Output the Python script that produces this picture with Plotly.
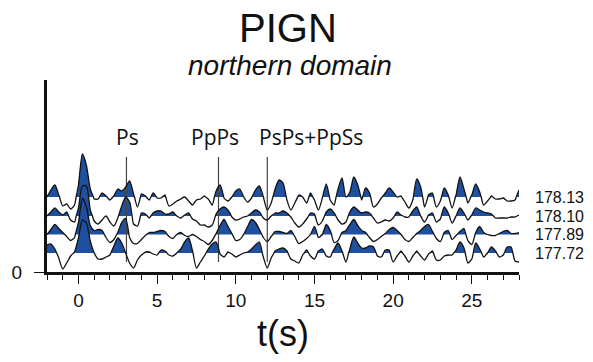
import numpy as np
import plotly.graph_objects as go

# ---------------- data ----------------
station = "PIGN"
region = "northern domain"
x_title = "t(s)"
t_start, t_step = -2.0, 0.25          # sampling of the traces (s)
x_ticks = [0, 5, 10, 15, 20, 25]
trace_labels = ["178.13", "178.10", "177.89", "177.72"]

rf_17813 = [0, 7, 12, 2, -9, -7, -12, -8,
            12, 43, 32, 8, -2, -2, 4, 1,
            -3, 1, 8, 6, 10, 16, 3, -10,
            3, 1, -3, 4, -1, -1, 2, -9,
            -7, -4, -2, 0, -4, -8, -3, -2,
            1, -2, -8, 6, 12, -1, -4, 0,
            6, 8, 0, -5, -1, 7, 11, 0,
            -13, -6, 8, 17, 14, -3, -13, -6,
            2, 0, -6, 4, -3, -13, -1, 13,
            -3, -8, 8, 19, 0, 5, 20, 12,
            -3, 9, 4, -10, -7, -1, 4, 9,
            5, 0, 1, -5, -11, -3, 18, 10,
            -10, 2, 4, -10, -4, 9, 2, -11,
            2, 20, 8, -6, 2, 13, 5, -8,
            -4, 1, -2, -2, -1, -4, -4, -3,
            7]
rf_17810 = [0, 4, 8, 4, 1, 4, -4, -6,
            8, 30, 30, 6, -5, -8, -4, 0,
            -6, -10, -2, 10, 19, 14, -8, -10,
            3, 2, -2, 3, 5, 5, 2, 2,
            4, 0, -2, 1, 3, -3, -5, -9,
            -9, -11, -9, 2, 7, 9, 6, -1,
            -4, -3, -1, 0, 3, 6, 4, -2,
            -4, 0, 3, 3, 5, 3, -1, -7,
            -11, -8, -3, 3, 2, -9, -5, 4,
            7, 3, -4, -8, -6, 4, 9, 6,
            3, 4, 3, -2, -7, -6, -4, -5,
            -2, 4, 1, -1, -1, 5, 9, 0,
            -6, 1, 3, -6, -3, 9, 3, -7,
            0, 8, 3, -4, 1, 8, 6, 4,
            3, 2, -2, -2, -2, -2, -1, -1,
            1]
rf_17789 = [0, 5, 10, 6, 2, -2, -6, -3,
            12, 36, 28, 9, 4, 5, 4, -3,
            -8, -5, 2, 12, 16, -3, -9, -9,
            -5, -1, 2, 2, 3, 4, 3, -2,
            -4, 0, 2, -1, -2, 0, -2, -5,
            -7, -10, -6, 1, 9, 15, 8, 1,
            -6, -5, 0, 8, 15, 12, 5, -3,
            -7, -2, 3, 3, 2, 1, 4, -2,
            -9, -7, -4, 0, 8, -3, 0, 10,
            4, -8, -6, 2, 4, 10, 15, 9,
            4, 2, -3, -7, -5, -2, 1, 5,
            7, 4, 0, -5, -7, -3, 1, 4,
            8, 10, 3, -4, -7, 2, 4, -5,
            -1, 3, 6, -6, -10, 2, 8, 2,
            0, -1, -1, 1, 3, 4, 1, 1,
            2]
rf_17772 = [8, 9, 4, -5, -16, -10, -3, 1,
            15, 33, 30, 12, 0, -6, -6, -4,
            -2, 7, 15, 10, 0, -10, -15, -7,
            -2, 1, 1, -1, -2, 3, 2, -2,
            -3, 0, 4, 11, 15, 2, -15, -9,
            -3, 4, 9, 11, -1, -4, 1, -1,
            -4, -2, 0, 1, 4, 8, 11, -4,
            -15, -5, 2, 4, 5, 2, -6, -8,
            -10, -2, 3, -3, -6, 2, 4, -3,
            -4, 4, 10, 2, -9, 4, 16, 10,
            5, 5, 7, 6, -3, -4, 3, 3,
            -9, -3, 2, -3, -9, -3, 2, -3,
            -7, -1, 2, -7, -7, -3, -2, -2,
            3, 11, 5, -10, -6, 10, 4, -4,
            0, 6, 2, -4, -2, 6, 6, -8,
            -9]

phase_names = ["Ps", "PpPs", "PsPs+PpSs"]
phase_times = [3.05, 8.9, 12.0]

# ---------------- drawing ----------------
traces = [rf_17813, rf_17810, rf_17789, rf_17772]
n = len(rf_17813)
t = t_start + t_step * np.arange(n)

baselines = [75, 56, 37.5, 19]       # vertical offsets of the wiggles
BLUE = "#1f50a0"
SANS = "Liberation Sans, Arial, sans-serif"
LABEL_FONT = "Open Sans, sans-serif"


def with_crossings(tt, vv):
    xs, ys = [], []
    for i in range(len(vv)):
        xs.append(tt[i]); ys.append(vv[i])
        if i < len(vv) - 1 and vv[i] * vv[i + 1] < 0:
            tc = tt[i] + (tt[i + 1] - tt[i]) * vv[i] / (vv[i] - vv[i + 1])
            xs.append(tc); ys.append(0.0)
    return np.array(xs), np.array(ys, float)


fig = go.Figure()

# positive fills
for vals, b in zip(traces, baselines):
    xs, ys = with_crossings(t, np.array(vals, float))
    fig.add_trace(go.Scatter(x=[xs[0], xs[-1]], y=[b, b], mode="lines",
                             line=dict(width=0), hoverinfo="skip", showlegend=False))
    fig.add_trace(go.Scatter(x=xs, y=b + np.maximum(ys, 0), mode="lines",
                             line=dict(width=0, shape="spline", smoothing=0.7),
                             fill="tonexty", fillcolor=BLUE,
                             hoverinfo="skip", showlegend=False))

# phase marker lines
for tp in phase_times:
    fig.add_trace(go.Scatter(x=[tp, tp], y=[10, 115], mode="lines",
                             line=dict(color="#444444", width=1.2),
                             hoverinfo="skip", showlegend=False))

# wiggle outlines
for vals, b in zip(traces, baselines):
    xs, ys = with_crossings(t, np.array(vals, float))
    fig.add_trace(go.Scatter(x=xs, y=b + ys, mode="lines",
                             line=dict(color="#111111", width=1.3, shape="spline", smoothing=0.7),
                             hoverinfo="skip", showlegend=False))

annotations = []
# phase names
label_t = [3.1, 8.7, 14.8]
for name, lt in zip(phase_names, label_t):
    annotations.append(dict(x=lt, y=135, xref="x", yref="y", text=name, showarrow=False,
                            font=dict(family=LABEL_FONT, size=21, color="#111111"),
                            xanchor="center", yanchor="middle"))
# trace labels on the right
for lab, b in zip(trace_labels, baselines):
    annotations.append(dict(x=28, y=b, xref="x", yref="y", text=lab, showarrow=False,
                            font=dict(family=SANS, size=16, color="#111111"),
                            xanchor="left", yanchor="middle", xshift=14))
# titles
annotations.append(dict(x=0.51, y=1.271, xref="paper", yref="paper", text=station,
                        showarrow=False, font=dict(family=SANS, size=40, color="#111111"),
                        xanchor="center", yanchor="middle"))
annotations.append(dict(x=0.515, y=1.078, xref="paper", yref="paper",
                        text="<i>" + region + "</i>",
                        showarrow=False, font=dict(family=SANS, size=28, color="#111111"),
                        xanchor="center", yanchor="middle"))
annotations.append(dict(x=0.5, y=-0.322, xref="paper", yref="paper", text=x_title,
                        showarrow=False, font=dict(family=SANS, size=36, color="#111111"),
                        xanchor="center", yanchor="middle"))

fig.update_layout(
    width=593, height=362,
    margin=dict(l=44, r=74, t=80, b=90),
    paper_bgcolor="white", plot_bgcolor="white",
    showlegend=False,
    annotations=annotations,
    xaxis=dict(range=[-2, 28], showline=True, linewidth=3, linecolor="#111111",
               ticks="outside", ticklen=9, tickwidth=1, tickcolor="#111111",
               tickvals=x_ticks, showgrid=False, zeroline=False,
               tickfont=dict(family=SANS, size=19, color="#111111"),
               minor=dict(dtick=1, tick0=0, ticks="outside", ticklen=5,
                          tickwidth=1, tickcolor="#111111", showgrid=False)),
    yaxis=dict(range=[0, 192], showline=True, linewidth=3, linecolor="#111111",
               ticks="outside", ticklen=10, tickwidth=1, tickcolor="#111111",
               tickvals=[0], ticktext=["0"], showgrid=False, zeroline=False,
               ticklabelstandoff=8,
               tickfont=dict(family=SANS, size=19, color="#111111")),
)

fig.write_html("out.html")
